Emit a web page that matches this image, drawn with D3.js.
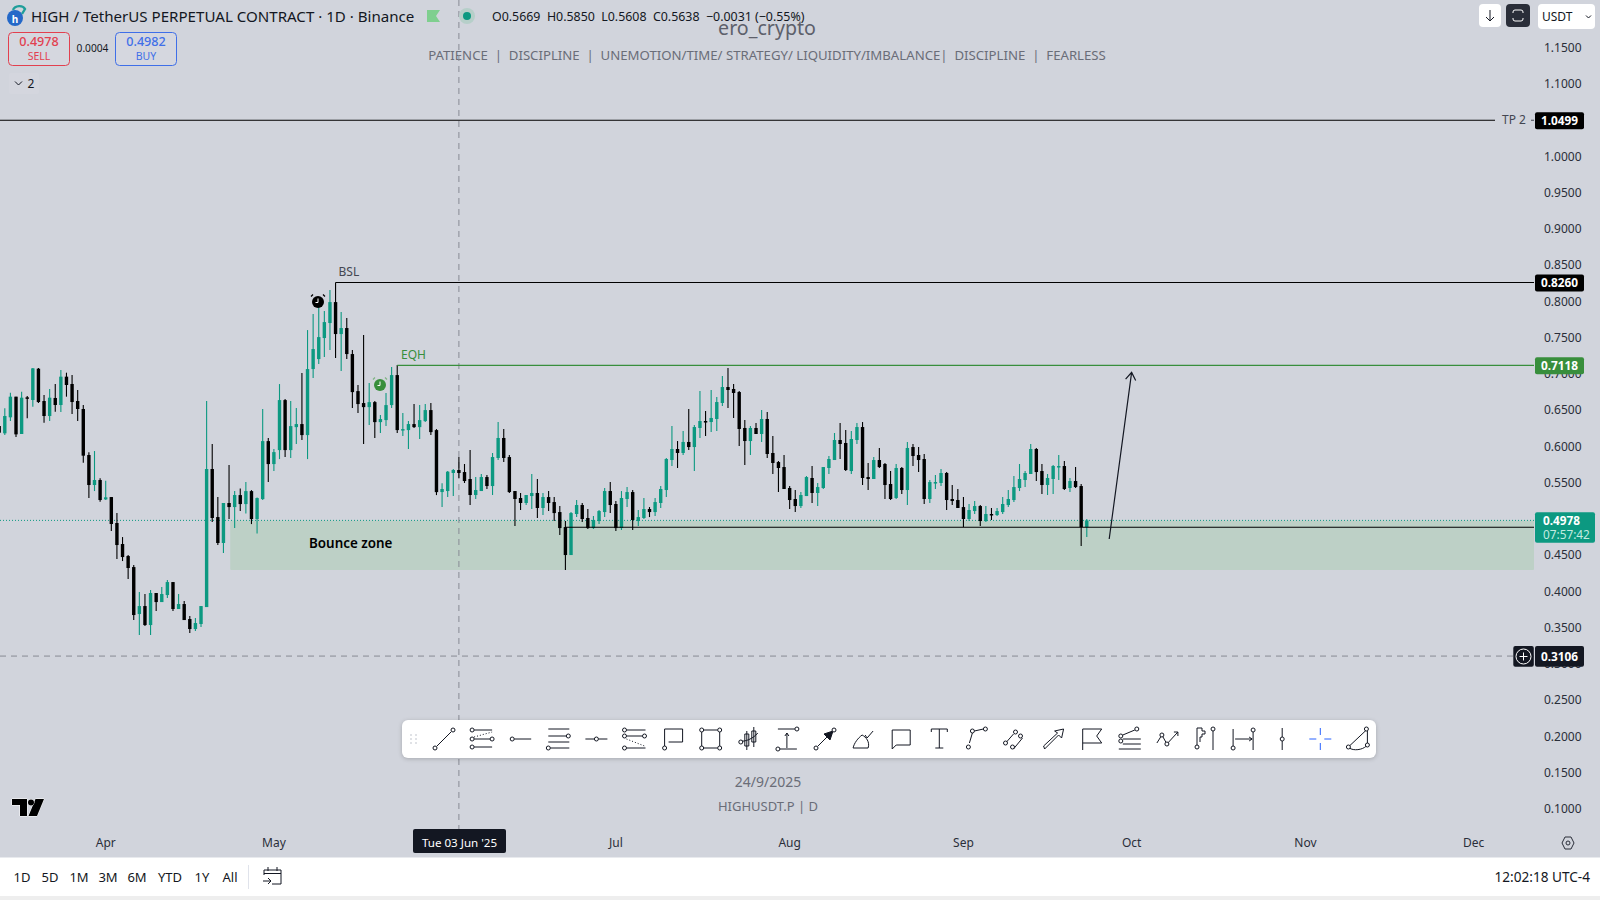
<!DOCTYPE html>
<html>
<head>
<meta charset="utf-8">
<title>HIGHUSDT.P</title>
<script src="https://cdn.jsdelivr.net/npm/d3@7"></script>
<style>
  html, body { margin: 0; padding: 0; background: #d1d4dc; overflow: hidden; }
  svg { display: block; }
  text { font-family: "Noto Sans", "Open Sans", sans-serif; }
</style>
</head>
<body>
<div id="chart"></div>
<script>
// candles, one per day starting 13 Mar 2025
var opens = [.6280,
  .6179,.6400,.6685,.6170,.6676,.6639,.7071,.6625,.6418,.6667,
  .6570,.6961,.6860,.6625,.6515,.5880,.5466,.5535,.5268,.5300,
  .4942,.4652,.4486,.4334,.3686,.3796,.3534,.3976,.3851,.3948,
  .4127,.3755,.3824,.3617,.3479,.3548,.3782,.5687,.5024,.4666,
  .5218,.5162,.5327,.5203,.5382,.4996,.5272,.6072,.5755,.5948,
  .6638,.5948,.6265,.6307,.6155,.7066,.7204,.7494,.7701,.7990,
  .7549,.7632,.7273,.6762,.6597,.6541,.6610,.6334,.6362,.6569,
  .6983,.6224,.6224,.6307,.6265,.6348,.6500,.6224,.5369,.5383,
  .5632,.5673,.5645,.5549,.5328,.5383,.5576,.5452,.5839,.6115,
  .5852,.5383,.5287,.5218,.5314,.5356,.5149,.5300,.5231,.5093,
  .4886,.4500,.5066,.5190,.5011,.4872,.4969,.5093,.5383,.5204,
  .4872,.5273,.5369,.4969,.5011,.5135,.5093,.5218,.5397,.5811,
  .5963,.5908,.6060,.5990,.6253,.6349,.6335,.6377,.6598,.6818,
  .6791,.6749,.6253,.6073,.6253,.6170,.6377,.5908,.5783,.5714,
  .5425,.5273,.5176,.5314,.5563,.5356,.5425,.5701,.5811,.6087,
  .6046,.5659,.6087,.6266,.5576,.5549,.5811,.5756,.5480,.5287,
  .5701,.5397,.5990,.5880,.5825,.5273,.5494,.5494,.5632,.5273,
  .5259,.5162,.4997,.5107,.5176,.4969,.5066,.5052,.5093,.5190,
  .5259,.5425,.5535,.5618,.5963,.5659,.5466,.5549,.5714,.5728,
  .5425,.5521,.5452,.4886];
var highs = [.6317,
  .6524,.6740,.6685,.6754,.6694,.7080,.7080,.6708,.6791,.6860,
  .7053,.7016,.6984,.6777,.6570,.5917,.5935,.5558,.5526,.5300,
  .5080,.4748,.4500,.4362,.3990,.3962,.4017,.3976,.4058,.4155,
  .4127,.3962,.3865,.3658,.3631,.3796,.6625,.6032,.5300,.5218,
  .5742,.5383,.5419,.5506,.5396,.5295,.6514,.6114,.5962,.6859,
  .6652,.6624,.6528,.7011,.7604,.7825,.8027,.7866,.8156,.8262,
  .7852,.7770,.7328,.6845,.7535,.6873,.6624,.6431,.6735,.7093,
  .7121,.6459,.6348,.6583,.6569,.6583,.6597,.6238,.5489,.5659,
  .5687,.5852,.5756,.5949,.5576,.5618,.5604,.5908,.6335,.6239,
  .5880,.5383,.5356,.5328,.5618,.5549,.5356,.5383,.5300,.5176,
  .4969,.5093,.5259,.5218,.5135,.5038,.5121,.5425,.5507,.5245,
  .5383,.5438,.5397,.5121,.5287,.5162,.5287,.5452,.5839,.6280,
  .6073,.6211,.6515,.6294,.6763,.6487,.6777,.6680,.6970,.7081,
  .6860,.6763,.6363,.6280,.6322,.6501,.6473,.6142,.5797,.5880,
  .5452,.5397,.5370,.5590,.5728,.5494,.5714,.5866,.6184,.6322,
  .6225,.6211,.6322,.6335,.5770,.5852,.5977,.5770,.5659,.5756,
  .5714,.6059,.6032,.5990,.5894,.5535,.5604,.5687,.5645,.5466,
  .5411,.5300,.5204,.5245,.5190,.5176,.5149,.5149,.5300,.5397,
  .5590,.5756,.5659,.6032,.5977,.5756,.5618,.5742,.5880,.5797,
  .5563,.5714,.5480,.4997];
var lows = [.6156,
  .6156,.6349,.6128,.6170,.6386,.6547,.6598,.6326,.6349,.6478,
  .6473,.6685,.6446,.6349,.5774,.5287,.5383,.5236,.5259,.4831,
  .4445,.4417,.4169,.3603,.3396,.3520,.3396,.3727,.3851,.3907,
  .3727,.3755,.3603,.3423,.3451,.3506,.3782,.4955,.4638,.4528,
  .4997,.4873,.5106,.5074,.4927,.4798,.5258,.5506,.5658,.5824,
  .5851,.5838,.6031,.6086,.5824,.6942,.7135,.7231,.7328,.7218,
  .7038,.7204,.6528,.6459,.6031,.6293,.6114,.6183,.6279,.6528,
  .6183,.6141,.5962,.6252,.6100,.6334,.6155,.5327,.5162,.5300,
  .5314,.5563,.5494,.5190,.5273,.5383,.5411,.5328,.5811,.5784,
  .5356,.4900,.5121,.5190,.5135,.5011,.5052,.5107,.4969,.4776,
  .4293,.4500,.5024,.4955,.4859,.4859,.4928,.5024,.5080,.4831,
  .4845,.5162,.4845,.4900,.4997,.5024,.5038,.5149,.5300,.5728,
  .5701,.5880,.5949,.5659,.6115,.6142,.6197,.6211,.6556,.6529,
  .6391,.6004,.5742,.5880,.6170,.6059,.5839,.5618,.5370,.5411,
  .5135,.5093,.5149,.5314,.5218,.5176,.5411,.5618,.5811,.5825,
  .5659,.5618,.6032,.5466,.5397,.5549,.5701,.5273,.5259,.5273,
  .5342,.5190,.5728,.5645,.5204,.5218,.5411,.5452,.5121,.5190,
  .5149,.4886,.4969,.5066,.4900,.4955,.4983,.5038,.5066,.5162,
  .5231,.5383,.5438,.5618,.5521,.5342,.5328,.5342,.5535,.5397,
  .5369,.5425,.4624,.4748];
var closes = [.6188,
  .6418,.6685,.6165,.6671,.6657,.7076,.6611,.6418,.6671,.6570,
  .6961,.6846,.6611,.6515,.5871,.5466,.5535,.5259,.5296,.4928,
  .4638,.4472,.4321,.3672,.3796,.3534,.3976,.3851,.3962,.4127,
  .3755,.3824,.3603,.3479,.3562,.3796,.5687,.5011,.4666,.5218,
  .5162,.5328,.5203,.5382,.4996,.5286,.6072,.5755,.5920,.6638,
  .5948,.6279,.6307,.6155,.7066,.7342,.7507,.7714,.7990,.7549,
  .7632,.7273,.6748,.6583,.6541,.6610,.6334,.6376,.6569,.6983,
  .6224,.6238,.6307,.6265,.6362,.6500,.6196,.5368,.5411,.5650,
  .5673,.5632,.5521,.5328,.5397,.5576,.5452,.5852,.6115,.5839,
  .5369,.5273,.5218,.5328,.5356,.5149,.5300,.5218,.5079,.4872,
  .4500,.5079,.5190,.4997,.4872,.4983,.5107,.5383,.5190,.4872,
  .5287,.5369,.4983,.5024,.5135,.5093,.5231,.5411,.5825,.5963,
  .5908,.6060,.5990,.6266,.6349,.6335,.6391,.6611,.6818,.6777,
  .6736,.6239,.6073,.6253,.6170,.6377,.5894,.5770,.5701,.5411,
  .5259,.5176,.5328,.5576,.5356,.5438,.5714,.5825,.6087,.6032,
  .5673,.6101,.6266,.5563,.5549,.5811,.5714,.5466,.5273,.5701,
  .5397,.5977,.5866,.5811,.5273,.5507,.5507,.5632,.5259,.5245,
  .5149,.4997,.5121,.5176,.4969,.5066,.5052,.5107,.5204,.5273,
  .5438,.5549,.5632,.5963,.5645,.5466,.5563,.5728,.5728,.5411,
  .5521,.5438,.4886,.4978];

// ticks hidden behind the axis tags in the reference are left out (1.05, 0.50)
var priceTicks = [.10,.15,.20,.25,.30,.35,.40,.45,.55,.60,.65,.70,.75,.80,.85,.90,.95,1.00,1.10,1.15];
var monthTicks = [[2025,3],[2025,4],[2025,6],[2025,7],[2025,8],[2025,9],[2025,10],[2025,11]];
var timeframes = ["1D","5D","1M","3M","6M","YTD","1Y","All"];
var timeframeX = [22,50,79,108,137,170,202,230];
var slogan = "PATIENCE  |  DISCIPLINE  |  UNEMOTION/TIME/ STRATEGY/ LIQUIDITY/IMBALANCE|  DISCIPLINE  |  FEARLESS";

var tp2 = 1.0499, bsl = 0.826, eqh = 0.7118, support = 0.4883, lastPrice = 0.4978, crossPrice = 0.3106;
var zoneTop = 0.4978, zoneBottom = 0.4293;
var firstDay = new Date(Date.UTC(2025, 2, 13));
var crossDay = new Date(Date.UTC(2025, 5, 3));
var bslDay = new Date(Date.UTC(2025, 4, 12));
var eqhDay = new Date(Date.UTC(2025, 4, 23));
var supportDay = new Date(Date.UTC(2025, 5, 22));
var zoneDay = new Date(Date.UTC(2025, 3, 23, 5));
var arrowFrom = {day: new Date(Date.UTC(2025, 8, 27)), price: 0.4721};
var arrowTo = {day: new Date(Date.UTC(2025, 9, 1)), price: 0.7020};

var axisX = 1534, width = 1600, height = 900;
var bg = "#d1d4dc", up = "#0c9981", down = "#000000", eqhColor = "#388e3c", dark = "#131722";

var candles = closes.map(function(c, i) {
    return {day: d3.utcDay.offset(firstDay, i), o: opens[i], h: highs[i], l: lows[i], c: c};
});

var x = d3.scaleUtc()
    .domain([new Date(Date.UTC(2025, 2, 14)), new Date(Date.UTC(2025, 11, 1))])
    .range([4.8, 1473.6]);
var y = d3.scaleLinear()
    .domain([0.1, 1.15])
    .range([808.7, 47.7]);

var svg = d3.select("#chart").append("svg")
    .attr("width", width)
    .attr("height", height);

svg.append("rect").attr("width", width).attr("height", height).attr("fill", bg);

function label(parent, px, py, str, size, color, anchor, weight) {
    return parent.append("text")
        .attr("x", px).attr("y", py)
        .attr("dy", "0.35em")
        .attr("font-size", size)
        .attr("fill", color)
        .attr("text-anchor", anchor || "start")
        .attr("font-weight", weight || 400)
        .text(str);
}

// bounce zone
svg.append("rect")
    .attr("x", x(zoneDay))
    .attr("y", y(zoneTop))
    .attr("width", axisX - x(zoneDay))
    .attr("height", y(zoneBottom) - y(zoneTop))
    .attr("rx", 1)
    .attr("fill", "#bdd0c6");
label(svg, 309, 543, "Bounce zone", 13.4, "#000", "start", 600);

// last price dotted line
svg.append("line")
    .attr("x1", 0).attr("x2", axisX)
    .attr("y1", y(lastPrice)).attr("y2", y(lastPrice))
    .attr("stroke", up).attr("stroke-dasharray", "1 2");

// watermark texts
label(svg, 767, 28, "ero_crypto", 19.6, "#5d606b", "middle");
label(svg, 767, 55, slogan, 13.2, "#6a6d78", "middle").style("white-space", "pre");
label(svg, 768, 782, "24/9/2025", 14, "#6a6d78", "middle");
label(svg, 768, 806, "HIGHUSDT.P | D", 13, "#6a6d78", "middle");

// crosshair
var crossColor = "#878a94";
svg.append("line")
    .attr("x1", x(crossDay)).attr("x2", x(crossDay))
    .attr("y1", 0).attr("y2", 829)
    .attr("stroke", crossColor).attr("stroke-dasharray", "6 5");
svg.append("line")
    .attr("x1", 0).attr("x2", axisX)
    .attr("y1", y(crossPrice)).attr("y2", y(crossPrice))
    .attr("stroke", crossColor).attr("stroke-dasharray", "6 5");

// candles
var bars = svg.append("g").selectAll("g")
    .data(candles)
    .enter().append("g")
    .attr("fill", function(d) { return d.c >= d.o ? up : down; })
    .attr("stroke", function(d) { return d.c >= d.o ? up : down; });
bars.append("line")
    .attr("x1", function(d) { return x(d.day); })
    .attr("x2", function(d) { return x(d.day); })
    .attr("y1", function(d) { return y(d.h); })
    .attr("y2", function(d) { return y(d.l); })
    .attr("stroke-width", 1.1);
bars.append("rect")
    .attr("x", function(d) { return x(d.day) - 1.7; })
    .attr("y", function(d) { return y(Math.max(d.o, d.c)); })
    .attr("width", 3.4)
    .attr("height", function(d) { return Math.max(1.5, Math.abs(y(d.o) - y(d.c))); })
    .attr("stroke", "none");

// drawings
function hline(price, from, color) {
    svg.append("line")
        .attr("x1", from).attr("x2", axisX)
        .attr("y1", y(price)).attr("y2", y(price))
        .attr("stroke", color).attr("stroke-width", 1.2);
}
svg.append("line").attr("x1", 0).attr("x2", 1495)
    .attr("y1", y(tp2)).attr("y2", y(tp2))
    .attr("stroke", "#000").attr("stroke-width", 1.2);
hline(bsl, x(bslDay), "#000");
hline(eqh, x(eqhDay), eqhColor);
hline(support, x(supportDay), "#000");
label(svg, 338.5, 272, "BSL", 12, "#434651");
label(svg, 401, 355, "EQH", 12, eqhColor);
label(svg, 1502, 120, "TP 2", 12, "#434651");
svg.append("line").attr("x1", 1531).attr("x2", 1534).attr("y1", y(tp2)).attr("y2", y(tp2)).attr("stroke", "#434651");

// arrow up to EQH
var ax1 = x(arrowFrom.day), ay1 = y(arrowFrom.price), ax2 = x(arrowTo.day), ay2 = y(arrowTo.price);
var ang = Math.atan2(ay2 - ay1, ax2 - ax1);
svg.append("path")
    .attr("d", "M" + ax1 + "," + ay1 + "L" + ax2 + "," + ay2 +
        "M" + (ax2 - 9 * Math.cos(ang - 0.6)) + "," + (ay2 - 9 * Math.sin(ang - 0.6)) +
        "L" + ax2 + "," + ay2 +
        "L" + (ax2 - 9 * Math.cos(ang + 0.6)) + "," + (ay2 - 9 * Math.sin(ang + 0.6)))
    .attr("fill", "none").attr("stroke", "#131722").attr("stroke-width", 1.2);

// alarm markers
function alarm(cx, cy, color, halo) {
    var g = svg.append("g").attr("transform", "translate(" + cx + "," + cy + ")");
    g.append("circle").attr("r", 6).attr("fill", color);
    g.append("path").attr("d", "M0,-3.5V0.5H-2.5").attr("fill", "none").attr("stroke", "#fff");
    g.append("path").attr("d", "M-7,-5.5L-5,-7.5M7,-5.5L5,-7.5").attr("fill", "none").attr("stroke", halo).attr("stroke-width", 1.2);
}
alarm(318, 302, "#000", "#000");
alarm(380, 385, eqhColor, "#7fb583");

// axes
var yAxis = d3.axisRight(y)
    .tickValues(priceTicks)
    .tickSize(0)
    .tickFormat(d3.format(".4f"));
var yG = svg.append("g").attr("transform", "translate(1535,0)").call(yAxis);
yG.select(".domain").remove();
yG.selectAll("text").attr("x", 9).attr("font-size", 12).attr("fill", "#2a2e39");

var xAxis = d3.axisBottom(x)
    .tickValues(monthTicks.map(function(m) { return new Date(Date.UTC(m[0], m[1], 1)); }))
    .tickSize(0)
    .tickFormat(d3.utcFormat("%b"));
var xG = svg.append("g").attr("transform", "translate(-0.5,837)").call(xAxis);
xG.select(".domain").remove();
xG.selectAll("text").attr("font-size", 12).attr("y", 1).attr("fill", "#2a2e39");

// axis price labels
function priceTag(price, color, str, w) {
    var cy = y(price) + 0.5;
    svg.append("rect").attr("x", 1535).attr("y", cy - 8.5).attr("width", w || 49).attr("height", 17).attr("rx", 2).attr("fill", color);
    label(svg, 1559.5, cy, str, 11.8, "#fff", "middle", 700);
}
priceTag(tp2, "#000", "1.0499");
priceTag(bsl, "#000", "0.8260");
priceTag(eqh, eqhColor, "0.7118");

svg.append("rect").attr("x", 1535).attr("y", 512.3).attr("width", 60).attr("height", 30.5).attr("rx", 2).attr("fill", "#0c9981");
label(svg, 1543, 521, "0.4978", 11.8, "#fff", "start", 700);
label(svg, 1543, 535, "07:57:42", 11.8, "#c3ebe0", "start", 400);

svg.append("rect").attr("x", 1513.3).attr("y", 646).attr("width", 20.5).attr("height", 20.7).attr("rx", 2).attr("fill", dark);
svg.append("circle").attr("cx", 1523.5).attr("cy", 656.5).attr("r", 7.5).attr("fill", "none").attr("stroke", "#fff");
svg.append("path").attr("d", "M1519.5,656.5H1527.5M1523.5,652.5V660.5").attr("stroke", "#fff");
svg.append("rect").attr("x", 1535).attr("y", 646).attr("width", 49).attr("height", 20.7).attr("rx", 2).attr("fill", dark);
label(svg, 1559.5, 656.5, "0.3106", 11.8, "#fff", "middle", 700);

svg.append("rect").attr("x", 413).attr("y", 829).attr("width", 93).attr("height", 24).attr("rx", 2).attr("fill", dark);
label(svg, 459.5, 843, "Tue 03 Jun '25", 11.6, "#fff", "middle", 400);

// header
svg.append("circle").attr("cx", 15).attr("cy", 18).attr("r", 8).attr("fill", "#2468c8");
label(svg, 15, 19, "h", 10, "#fff", "middle", 700);
svg.append("path").attr("d", "M13,10C15,5 23,5 25,9L22,14").attr("fill", "none").attr("stroke", "#1f9e9a").attr("stroke-width", 2.4);
label(svg, 31, 17, "HIGH / TetherUS PERPETUAL CONTRACT \u00b7 1D \u00b7 Binance", 15.1, dark);
svg.append("path").attr("d", "M427,10H440L436,16L440,22H427Z").attr("fill", "#7fcf8f");
svg.append("circle").attr("cx", 467).attr("cy", 16).attr("r", 8).attr("fill", "#b6cfc9");
svg.append("circle").attr("cx", 467).attr("cy", 16).attr("r", 4).attr("fill", up);
label(svg, 492, 17, "O0.5669  H0.5850  L0.5608  C0.5638  \u22120.0031 (\u22120.55%)", 12.4, dark).style("white-space", "pre");

// sell / buy
function tradeBox(bx, w, color, price, side) {
    svg.append("rect").attr("x", bx).attr("y", 32.5).attr("width", w).attr("height", 33).attr("rx", 4)
        .attr("fill", "#d5d7df").attr("stroke", color);
    label(svg, bx + w / 2, 42, price, 12.6, color, "middle", 500);
    label(svg, bx + w / 2, 56.5, side, 10.5, color, "middle");
}
tradeBox(8.5, 61, "#e2404f", "0.4978", "SELL");
tradeBox(115.5, 61, "#3f6fe8", "0.4982", "BUY");
label(svg, 92.5, 48.5, "0.0004", 10.2, "#131722", "middle");
svg.append("rect").attr("x", 9).attr("y", 73).attr("width", 30).attr("height", 21).attr("rx", 2).attr("fill", "#d4d6de");
svg.append("path").attr("d", "M15,81.5L18.5,85L22,81.5").attr("fill", "none").attr("stroke", dark);
label(svg, 31, 83.5, "2", 12, dark, "middle");

// top right buttons
svg.append("rect").attr("x", 1479).attr("y", 4).attr("width", 22).attr("height", 23).attr("rx", 4).attr("fill", "#fff");
svg.append("path").attr("d", "M1490,10V21M1486,17L1490,21L1494,17").attr("fill", "none").attr("stroke", dark);
svg.append("rect").attr("x", 1506).attr("y", 4).attr("width", 24).attr("height", 23).attr("rx", 4).attr("fill", "#2a2e39");
svg.append("path").attr("d", "M1513,13V12Q1513,10 1515,10H1521Q1523,10 1523,12V13M1513,18V19Q1513,21 1515,21H1521Q1523,21 1523,19V18").attr("fill", "none").attr("stroke", "#fff");
svg.append("rect").attr("x", 1538).attr("y", 4).attr("width", 57).attr("height", 25).attr("rx", 4).attr("fill", "#fff");
label(svg, 1542, 16.5, "USDT", 12, dark);
svg.append("path").attr("d", "M1586,15.5L1588.5,18L1591,15.5").attr("fill", "none").attr("stroke", dark);

// tradingview logo
var logo = svg.append("g").attr("transform", "translate(12,798)")
    .attr("fill", "#000").attr("stroke", "#fff").attr("stroke-width", 1).attr("paint-order", "stroke");
logo.append("path").attr("d", "M0,1H15V18H8V7H0Z");
logo.append("path").attr("d", "M16.5,18H25L32,1H23.5Z");
logo.append("circle").attr("cx", 19).attr("cy", 4.5).attr("r", 3);

// settings icon on the time axis
svg.append("path").attr("d", "M1562,843L1565,837H1571L1574,843L1571,849H1565Z").attr("fill", "none").attr("stroke", "#2a2e39");
svg.append("circle").attr("cx", 1568).attr("cy", 843).attr("r", 2).attr("fill", "none").attr("stroke", "#2a2e39");

// bottom bar
svg.append("rect").attr("y", 857.5).attr("width", width).attr("height", 38.5).attr("fill", "#fff");
svg.append("rect").attr("y", 896).attr("width", width).attr("height", 4).attr("fill", "#eeeeee");
timeframes.forEach(function(t, i) {
    label(svg, timeframeX[i], 877, t, 13, dark, "middle");
});
svg.append("line").attr("x1", 248.5).attr("x2", 248.5).attr("y1", 865).attr("y2", 889).attr("stroke", "#e0e3eb");
svg.append("path").attr("d", "M264,875V870H281V884H272M264,873.5H281M268,867V871M277,867V871M263,881H271M268,878L271,881L268,884")
    .attr("fill", "none").attr("stroke", dark);
label(svg, 1590, 877, "12:02:18 UTC-4", 13.6, dark, "end");

// drawing toolbar
svg.append("rect").attr("x", 402).attr("y", 720).attr("width", 974).attr("height", 38).attr("rx", 6)
    .attr("fill", "#fff").style("filter", "drop-shadow(0 1px 2px rgba(0,0,0,.2))");
[[-2.5,-4],[2.5,-4],[-2.5,0],[2.5,0],[-2.5,4],[2.5,4]].forEach(function(p) {
    svg.append("circle").attr("cx", 413.5 + p[0]).attr("cy", 739 + p[1]).attr("r", 1).attr("fill", "#d6d8de");
});
var tools = [
  {d: "M-7,7L7,-7", c: [[-9,9],[9,-9]]},
  {d: "M-8,-9H10M-8,0H8M-8,8H10", c: [[-10,-9],[-10,0],[-10,8],[10,0]], dash: "M-8,-2L10,-7"},
  {d: "M-6,0H11", c: [[-8,0]]},
  {d: "M-10,-10H11M-10,-3H8M-10,3H11M-8,9H11", c: [[10,-3],[-10,9]]},
  {d: "M-11,0H-2M2,0H11", c: [[0,0]]},
  {d: "M-8,-9H11M-8,-3H8M-8,9H11", c: [[-10,-9],[-10,-3],[-10,9],[10,-3]], dash: "M-8,0L10,7"},
  {d: "M-8,7V-10H10V3H-4", c: [[-8,9]]},
  {d: "M-9,-7V7M9,-7V7M-7,-9H7M-7,9H7", c: [[-9,-9],[9,-9],[-9,9],[9,9]]},
  {d: "M-4,-5H0V7H-4ZM3,-8H7V3H3ZM-2,-8V11M5,-12V8M-9,2C-4,3 4,0 9,-6", c: [[-8,3]]},
  {d: "M-9,-10H8M-7,10H10M0,9V-6M-2,-3L0,-6L2,-3", c: [[10,-10],[-9,10]]},
  {d: "M-7,7L3,-3M8,-8L-1,-5L5,1Z", c: [[-9,9],[9,-9]], fill: true},
  {d: "M-10,9H5C7,3 3,-2 -1,-4C-5,-1 -9,4 -10,9ZM2,-4L4,-1L10,-8"},
  {d: "M-9,-9H9V6H-5L-9,10Z"},
  {d: "M-8,-10H8M-8,-10V-7M8,-10V-7M0,-10V9M-4,9H4"},
  {d: "M-8,4L-5,-6M-3,-8L6,-10", c: [[-9,8],[-5,-8],[8,-10]]},
  {d: "M-9,3L-2,-5M-2,10L7,-1", c: [[-10,4],[0,-7],[-3,8],[5,-3]]},
  {d: "M-9,10L-10,7L4,-6L1,-8L10,-10L8,-1L5,-4L-8,9Z"},
  {d: "M-9,11V-10H10L5,-3L10,4H-9"},
  {d: "M-7,-4L5,-9M-7,0H11M-7,5H11M-11,10H11", c: [[-9,-3],[-9,2],[7,-10]]},
  {d: "M-11,4L-6,-4L-1,5L10,-7M6,-7H10V-3", c: [[-6,-4],[-1,5]]},
  {d: "M-9,6V-11H-4V-8H-1V-5H-4V-2H-6V3M7,-8V11", c: [[-9,8],[7,-10]]},
  {d: "M-11,7V-10M-9,0H8M5,-2L8,0L5,2M9,-7V11", c: [[-11,9],[9,-9]]},
  {d: "M0,-11V-2M0,2V11", c: [[0,0]]},
  {d: "M-11,0H-4M4,0H11M0,-11V-4M0,4V11", color: "#2962ff"},
  {d: "M-9,7L8,-9M9,-8L9,5M-9,9C-5,12 4,11 8,7", c: [[-10,8],[8,-10],[9,6]]}
];
var toolG = svg.append("g").selectAll("g").data(tools).enter().append("g")
    .attr("transform", function(d, i) { return "translate(" + (444 + 38.1 * i) + ",739)"; })
    .attr("fill", "none")
    .attr("stroke", function(d) { return d.color || dark; });
toolG.append("path")
    .attr("d", function(d) { return d.d; })
    .attr("fill", function(d) { return d.fill ? dark : "none"; });
toolG.filter(function(d) { return d.dash; }).append("path")
    .attr("d", function(d) { return d.dash; })
    .attr("stroke-dasharray", "1 2");
toolG.selectAll("circle")
    .data(function(d) { return d.c || []; })
    .enter().append("circle")
    .attr("cx", function(p) { return p[0]; })
    .attr("cy", function(p) { return p[1]; })
    .attr("r", 2)
    .attr("fill", "#fff");
</script>
</body>
</html>
